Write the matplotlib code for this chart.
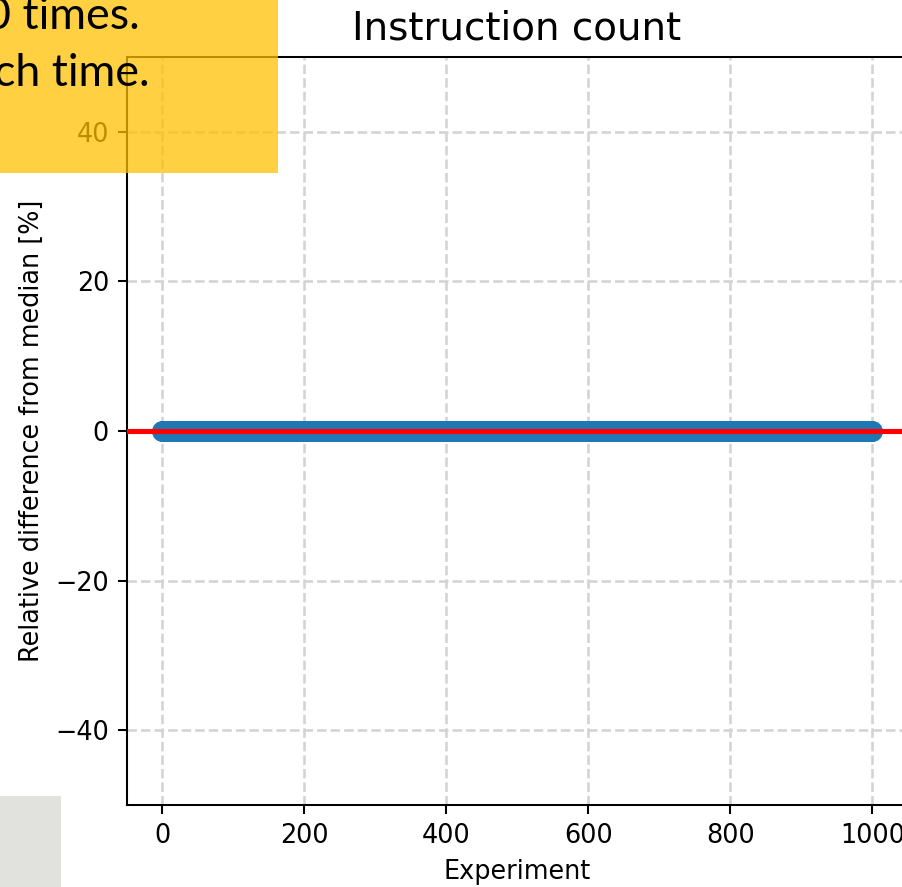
import numpy as np
import matplotlib.pyplot as plt
from matplotlib.patches import Rectangle

# data: 1000 runs, instruction count identical every time -> 0 % diff
experiments = list(range(1000))
rel_diff = [0.0] * 1000
median_line = 0.0

W, H = 902, 887
DPI = 184
fig = plt.figure(figsize=(W / DPI, H / DPI), dpi=DPI)

# axes is cut off on the right side in the original screenshot
ax = fig.add_axes([127 / W, 82 / H, 780 / W, 748 / H])
ax.scatter(experiments, rel_diff, color='#1f77b4', s=52, zorder=2)
ax.axhline(median_line, color='red', linewidth=2, zorder=3)
ax.set_ylim(-50, 50)
ax.set_yticks([-40, -20, 0, 20, 40])
ax.set_xticks([0, 200, 400, 600, 800, 1000])
ax.grid(True, linestyle='--', color='#d3d3d3', linewidth=1)
ax.set_axisbelow(True)
ax.set_title('Instruction count', fontsize=15.2, pad=7)
ax.set_xlabel('Experiment')
ax.set_ylabel('Relative difference from median [%]')

# slide overlay boxes
fig.add_artist(Rectangle((0, 1 - 173 / H), 278 / W, 173 / H, transform=fig.transFigure,
                         facecolor='#FFC000', alpha=0.74, edgecolor='none', zorder=5))
fig.add_artist(Rectangle((0, 0), 61 / W, 91 / H, transform=fig.transFigure,
                         facecolor='#E1E2DD', edgecolor='none', zorder=5))
fig.text(140 / W, 1 - 29 / H, '0 times.', ha='right', va='baseline', fontsize=17.5,
         family='Lato', color='black', zorder=6)
fig.text(150 / W, 1 - 86 / H, 'ch time.', ha='right', va='baseline', fontsize=17.5,
         family='Lato', color='black', zorder=6)

fig.savefig('out.png', dpi=DPI)
